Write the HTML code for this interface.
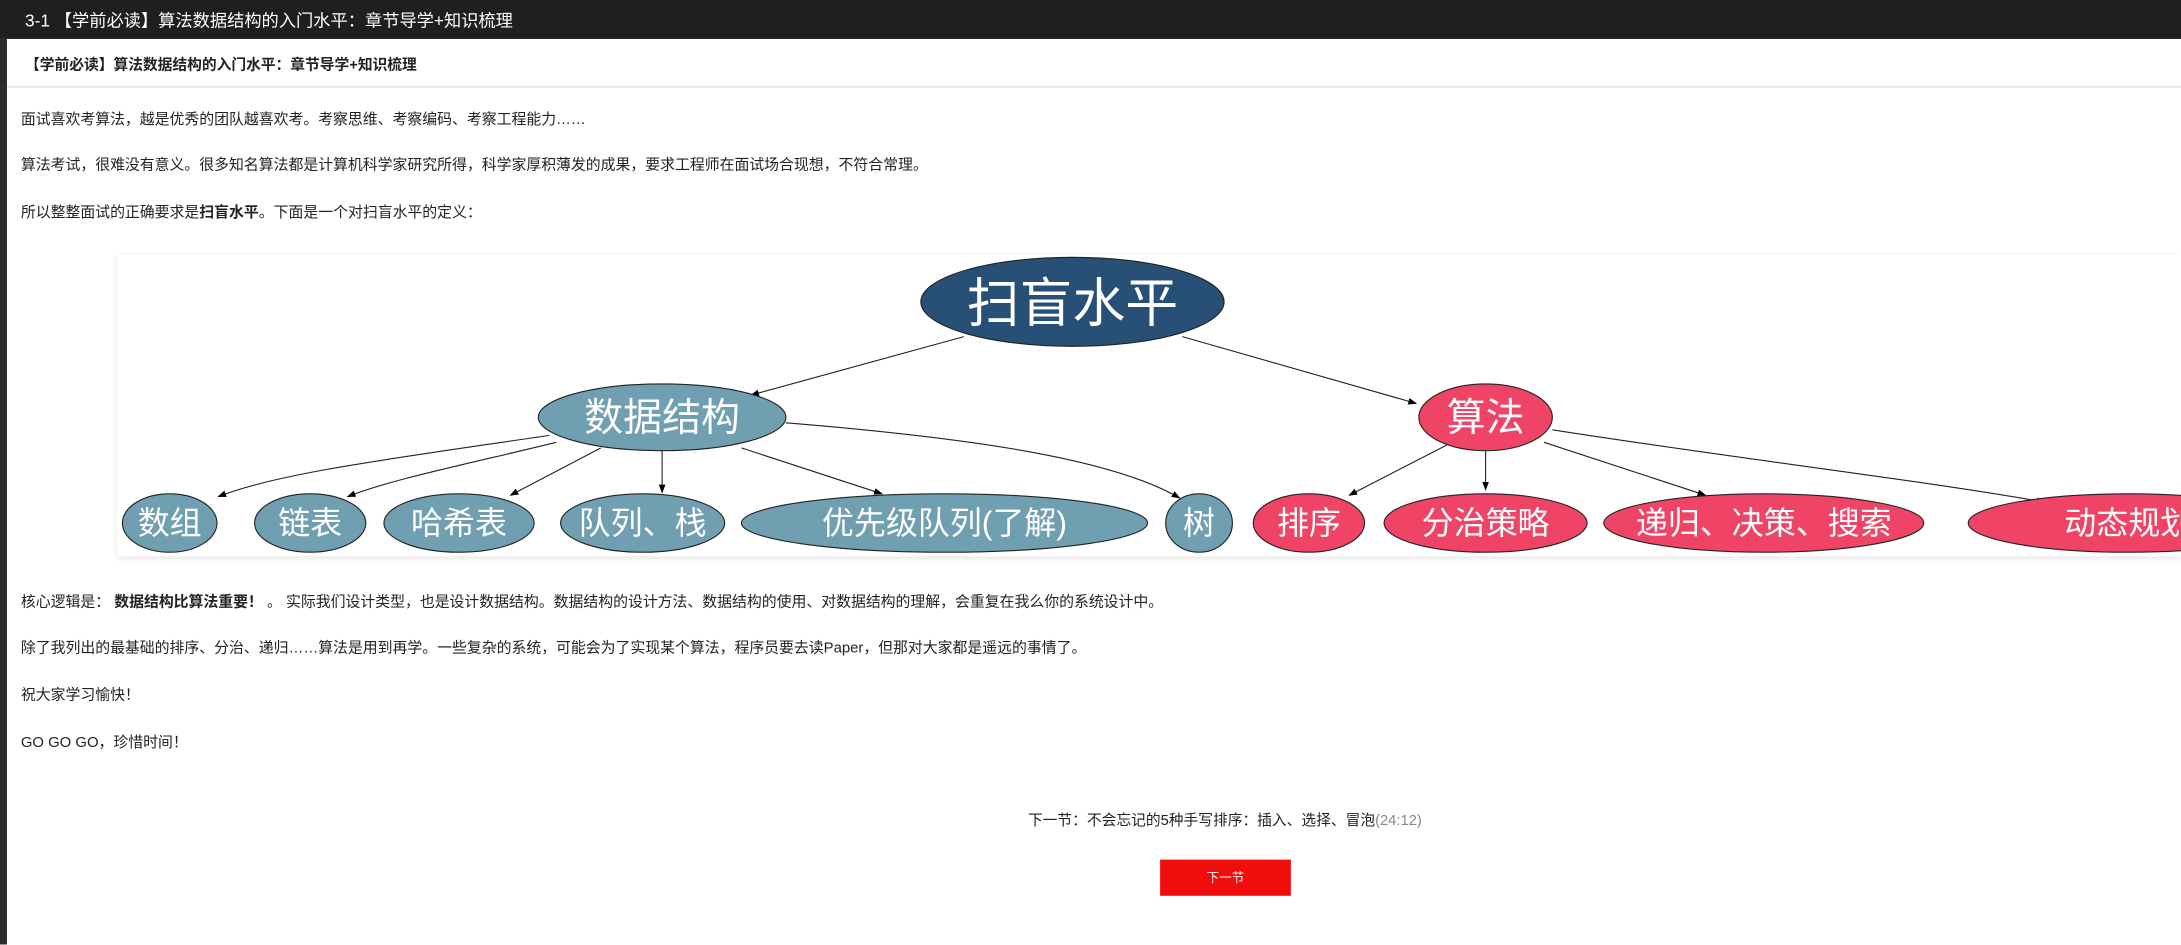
<!DOCTYPE html>
<html><head><meta charset="utf-8"><style>
html,body{margin:0;padding:0;background:#fff;overflow:hidden}
body{width:2181px;height:945px;position:relative}
#w{position:absolute;left:0;top:0;width:1568px;height:679px;transform:scale(1.391);transform-origin:0 0;font-family:"Liberation Sans","Noto Sans CJK SC",sans-serif;color:#222}
.t{position:absolute;white-space:nowrap;font-size:10.7px}
</style></head><body><div id="w">
<div style="position:absolute;left:0;top:0;width:1568px;height:28px;background:#1e1f21"></div>
<div class="t" style="left:18px;top:5px;font-size:12.4px;color:#fff">3-1 【学前必读】算法数据结构的入门水平：章节导学+知识梳理</div>
<div style="position:absolute;left:0;top:28px;width:5px;height:651px;background:#2a2b2d"></div>
<div class="t" style="left:18px;top:39px;font-size:10.6px;font-weight:bold;color:#222">【学前必读】算法数据结构的入门水平：章节导学+知识梳理</div>
<div style="position:absolute;left:5px;top:62px;width:1563px;height:1px;background:#ddd"></div>
<div class="t" style="left:15px;top:78px">面试喜欢考算法，越是优秀的团队越喜欢考。考察思维、考察编码、考察工程能力……</div>
<div class="t" style="left:15px;top:111px">算法考试，很难没有意义。很多知名算法都是计算机科学家研究所得，科学家厚积薄发的成果，要求工程师在面试场合现想，不符合常理。</div>
<div class="t" style="left:15px;top:145px">所以整整面试的正确要求是<b>扫盲水平</b>。下面是一个对扫盲水平的定义：</div>
<div style="position:absolute;left:84px;top:183px;width:1484px;height:217px;background:#fff;box-shadow:0 1px 4px rgba(0,0,0,0.12)"></div>
<svg style="position:absolute;left:0;top:0" width="1568" height="679" font-family="Liberation Sans,Noto Sans CJK SC,sans-serif">
<defs><marker id="a" markerWidth="8" markerHeight="8" refX="7" refY="3" orient="auto"><path d="M0,0 L8,3 L0,6 z" fill="#000"/></marker></defs>
<g stroke="#222" stroke-width="0.8" fill="none" marker-end="url(#a)">
<path d="M693,242 L540,284"/>
<path d="M850,242 L1018,290"/>
<path d="M395,313 C280,330 200,340 157,357"/>
<path d="M400,318 C330,335 280,345 250,357"/>
<path d="M432,322 L367,356"/>
<path d="M476,324 L476,354"/>
<path d="M533,322 L634,355"/>
<path d="M565,304 C700,315 800,330 848,358"/>
<path d="M1040,320 L970,356"/>
<path d="M1068,324 L1068,352"/>
<path d="M1110,318 L1226,356"/>
<path d="M1116,309 C1250,330 1380,345 1470,361"/>
</g>
<g stroke="#222" stroke-width="0.8">
<ellipse cx="771" cy="217" rx="109" ry="32" fill="#285077"/>
<ellipse cx="476" cy="300" rx="89" ry="24" fill="#6f9fb0"/>
<ellipse cx="1068" cy="300" rx="48" ry="24" fill="#ef4466"/>
<ellipse cx="122" cy="376" rx="34" ry="21" fill="#6f9fb0"/>
<ellipse cx="223" cy="376" rx="40" ry="21" fill="#6f9fb0"/>
<ellipse cx="330" cy="376" rx="54" ry="21" fill="#6f9fb0"/>
<ellipse cx="462" cy="376" rx="59" ry="21" fill="#6f9fb0"/>
<ellipse cx="679" cy="376" rx="146" ry="21" fill="#6f9fb0"/>
<ellipse cx="862" cy="376" rx="24" ry="21" fill="#6f9fb0"/>
<ellipse cx="941" cy="376" rx="40" ry="21" fill="#ef4466"/>
<ellipse cx="1068" cy="376" rx="73" ry="21" fill="#ef4466"/>
<ellipse cx="1268" cy="376" rx="115" ry="21" fill="#ef4466"/>
<ellipse cx="1530" cy="376" rx="115" ry="21" fill="#ef4466"/>
</g>
<g fill="#fff" text-anchor="middle">
<text x="771" y="231" font-size="38">扫盲水平</text>
<text x="476" y="310" font-size="28">数据结构</text>
<text x="1068" y="310" font-size="28">算法</text>
<g font-size="23">
<text x="122" y="384">数组</text><text x="223" y="384">链表</text><text x="330" y="384">哈希表</text>
<text x="462" y="384">队列、栈</text><text x="679" y="384">优先级队列(了解)</text><text x="862" y="384">树</text>
<text x="941" y="384">排序</text><text x="1068" y="384">分治策略</text><text x="1268" y="384">递归、决策、搜索</text>
<text x="1530" y="384">动态规划</text></g>
</g>
</svg>
<div class="t" style="left:15px;top:425px">核心逻辑是： <b>数据结构比算法重要！</b> 。 实际我们设计类型，也是设计数据结构。数据结构的设计方法、数据结构的使用、对数据结构的理解，会重复在我么你的系统设计中。</div>
<div class="t" style="left:15px;top:458px">除了我列出的最基础的排序、分治、递归……算法是用到再学。一些复杂的系统，可能会为了实现某个算法，程序员要去读Paper，但那对大家都是遥远的事情了。</div>
<div class="t" style="left:15px;top:492px">祝大家学习愉快！</div>
<div class="t" style="left:15px;top:526px">GO GO GO，珍惜时间！</div>
<div class="t" style="left:739px;top:582px;font-size:10.6px">下一节：不会忘记的5种手写排序：插入、选择、冒泡<span style="color:#888">(24:12)</span></div>
<div style="position:absolute;left:834px;top:618px;width:94px;height:26px;background:#f20d0d;color:#fff;font-size:9px;line-height:26px;text-align:center">下一节</div>
</div></body></html>
